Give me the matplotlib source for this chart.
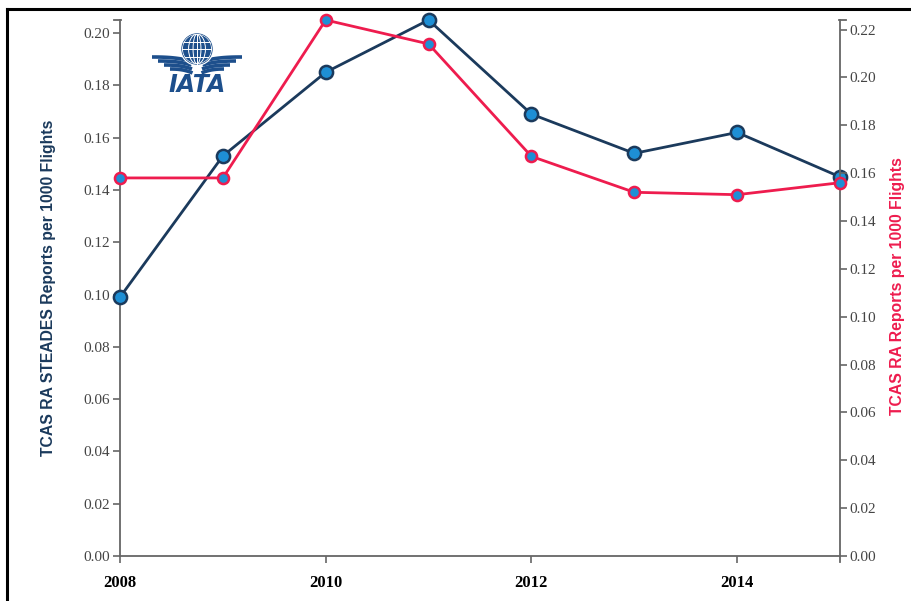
import matplotlib
matplotlib.use("Agg")
import matplotlib.pyplot as plt
import numpy as np
from matplotlib.patches import Circle, Ellipse
from matplotlib.lines import Line2D

years = [2008, 2009, 2010, 2011, 2012, 2013, 2014, 2015]
steades = [0.099, 0.153, 0.185, 0.205, 0.169, 0.154, 0.162, 0.145]
tcas_ra = [0.158, 0.158, 0.224, 0.214, 0.167, 0.152, 0.151, 0.156]
left_ticks = [0.00, 0.02, 0.04, 0.06, 0.08, 0.10, 0.12, 0.14, 0.16, 0.18, 0.20]
right_ticks = [0.00, 0.02, 0.04, 0.06, 0.08, 0.10, 0.12, 0.14, 0.16, 0.18, 0.20, 0.22]
x_ticks = [2008, 2010, 2012, 2014]
left_label = "TCAS RA STEADES Reports per 1000 Flights"
right_label = "TCAS RA Reports per 1000 Flights"
logo_text = "IATA"

NAVY = "#1b3a5c"
RED = "#ee1c4e"
FILL = "#1e8fd5"
AXC = "#666666"
TICKC = "#444444"

W, H = 912, 601
fig = plt.figure(figsize=(W/100, H/100), dpi=100)

def fx(px): return px / W
def fy(py): return 1 - py / H

ax = fig.add_axes([fx(120), fy(556), fx(840) - fx(120), fy(20) - fy(556)])
ax2 = ax.twinx()

ax.plot(years, steades, color=NAVY, lw=2.0, marker='o', ms=9.5, mfc=FILL,
        mec=NAVY, mew=1.8, clip_on=False, zorder=3)
ax2.plot(years, tcas_ra, color=RED, lw=2.0, marker='o', ms=8, mfc=FILL,
         mec=RED, mew=1.8, clip_on=False, zorder=3)

ax.set_xlim(2008, 2015)
ax.set_ylim(0, max(steades))
ax2.set_ylim(0, max(tcas_ra))

for a in (ax, ax2):
    a.patch.set_visible(False)
    a.spines['top'].set_visible(False)
    for s in a.spines.values():
        s.set_color(AXC)
        s.set_linewidth(1.3)
ax.spines['right'].set_visible(False)
ax2.spines['left'].set_visible(False)
ax2.spines['bottom'].set_visible(False)

ax.set_yticks(left_ticks)
ax.set_yticklabels([f"{v:.2f}" for v in left_ticks])
ax2.set_yticks(right_ticks)
ax2.set_yticklabels([f"{v:.2f}" for v in right_ticks])
ax.set_xticks(x_ticks)
ax.set_xticklabels([str(v) for v in x_ticks])

ax.tick_params(axis='y', direction='out', length=5, width=1.2, color=AXC,
               labelsize=11, labelcolor=TICKC, pad=2)
ax2.tick_params(axis='y', direction='out', length=5, width=1.2, color=AXC,
                labelsize=11, labelcolor=TICKC, pad=2)
ax.tick_params(axis='x', direction='out', length=5, width=1.2, color=AXC,
               labelsize=12, pad=9)
for t in ax.get_yticklabels() + ax2.get_yticklabels():
    t.set_fontfamily('Liberation Serif')
for t in ax.get_xticklabels():
    t.set_fontfamily('Liberation Serif')
    t.set_fontweight('bold')
    t.set_color('black')

# outer ticks at domain ends (d3 style)
fig.add_artist(Line2D([fx(114), fx(121)], [fy(20), fy(20)], color=AXC, lw=1.3))
fig.add_artist(Line2D([fx(839), fx(846)], [fy(20), fy(20)], color=AXC, lw=1.3))
fig.add_artist(Line2D([fx(840), fx(840)], [fy(556), fy(562)], color=AXC, lw=1.3))

fig.text(fx(49), fy(288), left_label, rotation=90, ha='center', va='center',
         fontsize=11.3, fontweight='bold', color=NAVY, family='Liberation Sans')
fig.text(fx(898), fy(286), right_label, rotation=90, ha='center', va='center',
         fontsize=11.3, fontweight='bold', color=RED, family='Liberation Sans')

# frame lines (top and left)
fig.add_artist(Line2D([fx(7), fx(912)], [fy(9), fy(9)], color='black', lw=2.2))
fig.add_artist(Line2D([fx(7), fx(7)], [fy(9), fy(601)], color='black', lw=2.2))

# IATA logo
LOGO = "#1d4f8c"
lx0, lx1, ly0, ly1 = 145, 250, 30, 100
lax = fig.add_axes([fx(lx0), fy(ly1), fx(lx1) - fx(lx0), fy(ly0) - fy(ly1)])
lax.set_xlim(lx0, lx1)
lax.set_ylim(ly1, ly0)
lax.axis('off')
cx, cy, r = 197, 49, 15
for side in (-1, 1):
    for i in range(4):
        t = np.linspace(0, 1, 30)
        xs0 = cx + side * (45 - i * 6)
        xs1 = cx + side * (6 - i * 0.5)
        ys0 = 57 + i * 4.0
        xs = xs0 + (xs1 - xs0) * t
        ys = ys0 + 4.0 * t ** 2.5
        lax.plot(xs, ys, color=LOGO, lw=2.6, solid_capstyle='butt', zorder=1)
globe = Circle((cx, cy), r, color=LOGO, zorder=2)
lax.add_patch(Circle((cx, cy), r + 1.2, color='white', zorder=1.5))
lax.add_patch(globe)
for w in (0.35, 0.75, 1.3):
    e = Ellipse((cx, cy), 2 * r * w * 0.75, 2 * r, fill=False, ec='white', lw=0.7, zorder=3)
    e.set_clip_path(globe)
    lax.add_patch(e)
for dy in (-7.5, 0, 7.5):
    ln, = lax.plot([cx - r, cx + r], [cy + dy, cy + dy], color='white', lw=0.7, zorder=3)
    ln.set_clip_path(globe)
lax.plot([cx, cx], [cy - r, cy + r], color='white', lw=0.7, zorder=3)
lax.text(cx, 85, logo_text, ha='center', va='center', fontsize=17,
         fontweight='bold', style='italic', color=LOGO, family='DejaVu Sans')

fig.savefig("out.png", dpi=100)
